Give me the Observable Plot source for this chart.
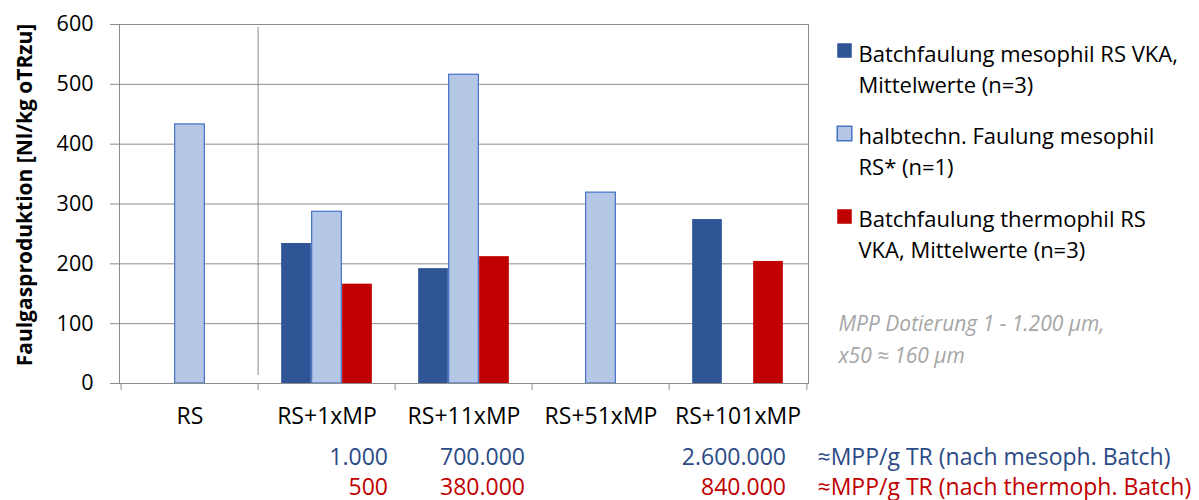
<!DOCTYPE html>
<html>
<head>
<meta charset="utf-8">
<script src="https://cdn.jsdelivr.net/npm/d3@7"></script>
<script src="https://cdn.jsdelivr.net/npm/@observablehq/plot@0.6"></script>
<style>
  html, body { margin: 0; padding: 0; background: #fff; }
  #chart svg { display: block; }
</style>
</head>
<body>
<div id="chart"></div>
<script>
// ---- data ----
const categories = ["RS", "RS+1xMP", "RS+11xMP", "RS+51xMP", "RS+101xMP"];
const seriesLabels = [
  "Batchfaulung mesophil RS VKA,\nMittelwerte (n=3)",
  "halbtechn. Faulung mesophil\nRS* (n=1)",
  "Batchfaulung thermophil RS\nVKA, Mittelwerte (n=3)"
];
const batchMesophil = [null, 234, 192, null, 274];
const halbtechnMesophil = [433, 287, 516, 319, null];
const batchThermophil = [null, 166, 212, null, 204];
const mppMesoph = [null, "1.000", "700.000", null, "2.600.000"];
const mppThermoph = [null, "500", "380.000", null, "840.000"];
const mppRowLabels = ["≈MPP/g TR (nach mesoph. Batch)", "≈MPP/g TR (nach thermoph. Batch)"];
const yTicks = [0, 100, 200, 300, 400, 500, 600];
const yLabel = "Faulgasproduktion [Nl/kg oTRzu]";
const note = "MPP Dotierung 1 - 1.200 µm,\nx50 ≈ 160 µm";

// ---- layout / style ----
const W = 1199, H = 500, mL = 119, mR = 391, mT = 24, mB = 117;
const step = (W - mL - mR) / categories.length;
const barW = 30.5;
const inset = (step - barW) / 2;
const grid = "#8c8c8c";
const font = "'Open Sans'";
const textBlue = "#2B4A86";
const textRed = "#C00000";

const rows = categories.map((c, i) => ({
  cat: c,
  meso: batchMesophil[i],
  halb: halbtechnMesophil[i],
  thermo: batchThermophil[i],
  mppM: mppMesoph[i],
  mppT: mppThermoph[i]
}));

const series = [
  {key: "meso", fill: "#2F5597", stroke: "none", offset: -1},
  {key: "halb", fill: "#B4C7E7", stroke: "#4472C4", offset: 0},
  {key: "thermo", fill: "#C00000", stroke: "none", offset: 1}
];
const legendColors = series.map(s => s.fill);
const legendStrokes = series.map(s => s.stroke);
const legendLineY = [43, 125, 208.5];
const legendSquareY = [26, 109, 192];
const last = categories[categories.length - 1];

const marks = [
  Plot.gridY(yTicks, {stroke: grid, strokeOpacity: 1}),
  // separator between RS and the MP groups
  Plot.ruleX([categories[1]], {x: d => d, dx: -step / 2, insetTop: 3, insetBottom: 8, stroke: grid}),
  ...series.map(s => Plot.barY(rows.filter(r => r[s.key] != null), {
    x: "cat", y: s.key, fill: s.fill, stroke: s.stroke, strokeWidth: 1.2,
    dx: s.offset * barW, insetLeft: inset, insetRight: inset
  })),
  Plot.frame({stroke: grid}),
  Plot.axisY({ticks: yTicks, tickSize: 9, tickPadding: 17, fontSize: 21.5, label: null, stroke: grid, fill: "black"}),
  Plot.axisX({tickSize: 0, tickPadding: 24, fontSize: 23, label: null, fill: "black"}),
  // category boundary ticks
  Plot.ruleX(categories, {x: d => d, dx: -step / 2, insetTop: H - mT - mB, insetBottom: -7, stroke: grid}),
  Plot.ruleX([last], {x: d => d, dx: step / 2, insetTop: H - mT - mB, insetBottom: -7, stroke: grid}),
  // y label
  Plot.text([yLabel], {frameAnchor: "left", rotate: -90, dx: -94, dy: -9, textAnchor: "middle", lineAnchor: "middle", fontWeight: "bold", fontSize: 21, fill: "black"}),
  // MPP rows
  Plot.text(rows.filter(r => r.mppM && r.cat !== last), {x: "cat", text: "mppM", frameAnchor: "bottom", dy: 74, dx: 61, textAnchor: "end", lineAnchor: "middle", fill: textBlue, fontSize: 23}),
  Plot.text(rows.filter(r => r.mppM && r.cat === last), {x: "cat", text: "mppM", frameAnchor: "bottom", dy: 74, dx: 48, textAnchor: "end", lineAnchor: "middle", fill: textBlue, fontSize: 23}),
  Plot.text(rows.filter(r => r.mppT && r.cat !== last), {x: "cat", text: "mppT", frameAnchor: "bottom", dy: 104, dx: 61, textAnchor: "end", lineAnchor: "middle", fill: textRed, fontSize: 23}),
  Plot.text(rows.filter(r => r.mppT && r.cat === last), {x: "cat", text: "mppT", frameAnchor: "bottom", dy: 104, dx: 48, textAnchor: "end", lineAnchor: "middle", fill: textRed, fontSize: 23}),
  Plot.text([mppRowLabels[0]], {frameAnchor: "bottom-right", dx: 9, dy: 74, textAnchor: "start", lineAnchor: "middle", fill: textBlue, fontSize: 23}),
  Plot.text([mppRowLabels[1]], {frameAnchor: "bottom-right", dx: 9, dy: 104, textAnchor: "start", lineAnchor: "middle", fill: textRed, fontSize: 23}),
  // legend
  ...seriesLabels.map((lbl, i) => Plot.dot([lbl], {
    frameAnchor: "top-right", dx: 36, dy: legendSquareY[i], symbol: "square", r: 8.2,
    fill: legendColors[i], stroke: legendStrokes[i]
  })),
  ...seriesLabels.map((lbl, i) => Plot.text([lbl], {
    frameAnchor: "top-right", dx: 50, dy: legendLineY[i], textAnchor: "start", lineAnchor: "middle",
    lineHeight: 1.4, fontSize: 22, fill: "black"
  })),
  // note
  Plot.text([note], {frameAnchor: "top-right", dx: 30, dy: 312, textAnchor: "start", lineAnchor: "middle", lineHeight: 1.55, fontSize: 21, fontStyle: "italic", fill: "#A6A6A6"})
];

const chart = Plot.plot({
  width: W, height: H,
  marginLeft: mL, marginRight: mR, marginTop: mT, marginBottom: mB,
  style: {fontFamily: font, fontSize: "20px", background: "white", color: "black", overflow: "visible"},
  x: {type: "band", domain: categories, padding: 0, axis: null},
  y: {domain: [0, 600], axis: null},
  marks
});
document.getElementById("chart").appendChild(chart);
</script>
</body>
</html>
